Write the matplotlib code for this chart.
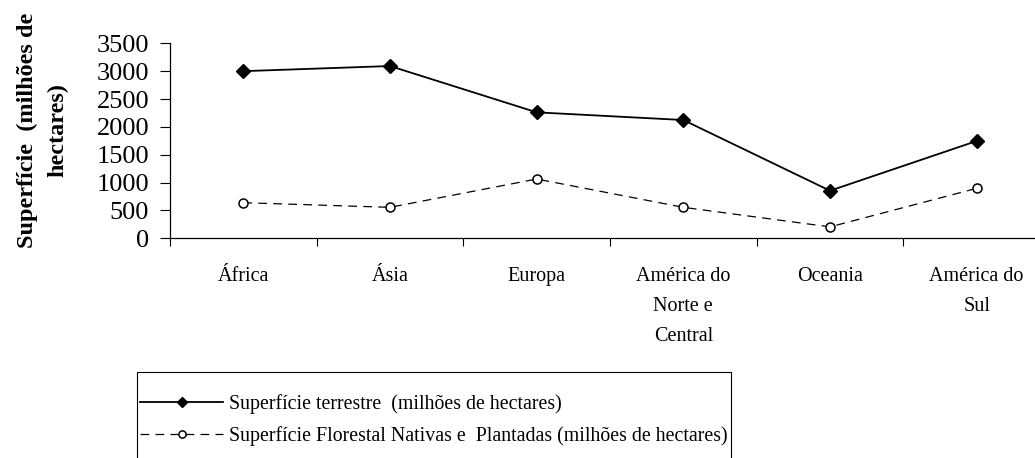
import numpy as np
import matplotlib
matplotlib.use('Agg')
import matplotlib.pyplot as plt
from matplotlib.patches import Rectangle

# regions and areas (millions of hectares)
regioes = ['África', 'Ásia', 'Europa', 'América do\nNorte e\nCentral', 'Oceania', 'América do\nSul']
sup_terrestre = [3000, 3092, 2261, 2123, 854, 1746]
sup_florestal = [639, 556, 1064, 556, 205, 897]

lbl_terrestre = 'Superfície terrestre  (milhões de hectares)'
lbl_florestal = 'Superfície Florestal Nativas e  Plantadas (milhões de hectares)'

plt.rcParams['font.family'] = ['Liberation Serif', 'DejaVu Serif']

W, H = 1035, 458
fig = plt.figure(figsize=(W/100, H/100), dpi=100)
ax = fig.add_axes([170/W, 1-238.3/H, 880/W, 195/H])

x = np.arange(len(regioes))
ax.plot(x, sup_terrestre, color='black', lw=1.3, marker='D', ms=7,
        mfc='black', mec='black', label=lbl_terrestre)
ax.plot(x, sup_florestal, color='black', lw=0.9, ls=(0, (7, 5)), marker='o', ms=6.5,
        mfc='white', mec='black', mew=1.1, label=lbl_florestal)

ax.set_xlim(-0.5, len(regioes) - 0.5)
ax.set_ylim(0, 3500)
ax.set_yticks(np.arange(0, 3501, 500))
ax.tick_params(axis='y', labelsize=19, length=7, width=0.8, pad=8, direction='out')

# category boundaries as ticks, names centred between them
ax.set_xticks(np.arange(-0.5, len(regioes), 1.0))
ax.set_xticklabels([])
ax.tick_params(axis='x', which='major', length=6, width=0.8, direction='out')
ax.set_xticks(x, minor=True)
ax.set_xticklabels(regioes, minor=True, fontsize=14.5, linespacing=1.78)
ax.tick_params(axis='x', which='minor', length=0, pad=21)

for s in ['top', 'right']:
    ax.spines[s].set_visible(False)
ax.spines['left'].set_linewidth(0.9)
ax.spines['bottom'].set_linewidth(0.9)
ax.spines['left'].set_bounds(0, 3500)

fig.text(27/W, 1-130/H, 'Superfície  (milhões de', rotation=90, ha='center', va='center',
         fontsize=17.5, fontweight='bold')
fig.text(58/W, 1-130/H, 'hectares)', rotation=90, ha='center', va='center',
         fontsize=17.5, fontweight='bold')

# legend box runs past the bottom edge
fig.patches.append(Rectangle((137/W, 1-470/H), (731-137)/W, (470-372)/H,
                             transform=fig.transFigure, fill=False,
                             edgecolor='black', lw=0.8))
leg = fig.legend(loc='upper left', bbox_to_anchor=(140/W, 1-394/H), fontsize=14.3,
                 frameon=False, handlelength=4.2, handletextpad=0.3, markerscale=0.8,
                 borderpad=0, labelspacing=0.62, borderaxespad=0)

plt.savefig('out.png')
